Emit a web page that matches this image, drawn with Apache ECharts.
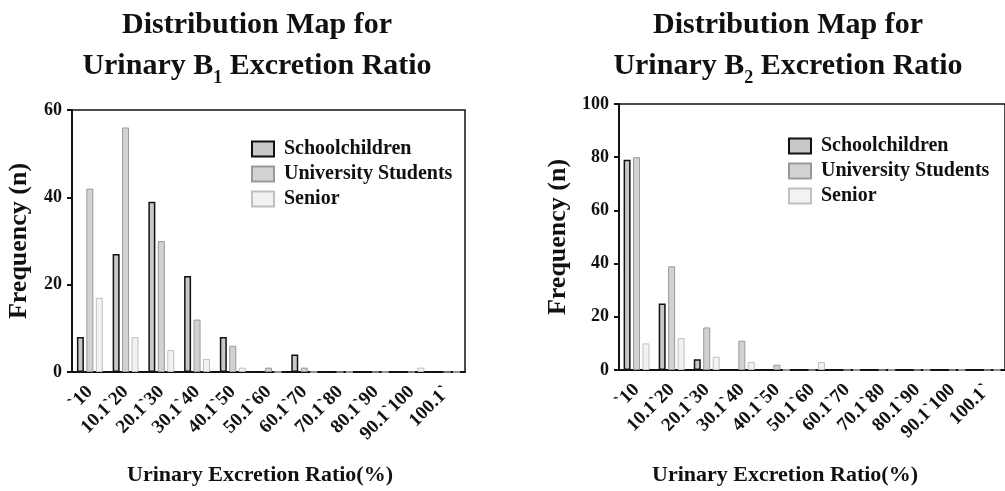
<!DOCTYPE html>
<html>
<head>
<meta charset="utf-8">
<script src="https://cdn.jsdelivr.net/npm/echarts@6/dist/echarts.min.js"></script>
<style>
  html, body { margin: 0; padding: 0; background: #fff; }
  #chart { width: 1005px; height: 491px; }
</style>
</head>
<body>
<div id="chart"></div>
<script>
// 区间 (x axis categories)
var categories = ['`10', '10.1`20', '20.1`30', '30.1`40', '40.1`50', '50.1`60',
  '60.1`70', '70.1`80', '80.1`90', '90.1`100', '100.1`'];
var seriesNames = ['Schoolchildren', 'University Students', 'Senior'];

// B1 chart
var b1School = [8, 27, 39, 22, 8, 0, 4, 0, 0, 0, 0];
var b1Univ   = [42, 56, 30, 12, 6, 1, 1, 0, 0, 0, 0];
var b1Senior = [17, 8, 5, 3, 1, 0, 0, 0, 0, 1, 0];
var b1Ticks  = [0, 20, 40, 60];

// B2 chart
var b2School = [79, 25, 4, 0, 0, 0, 0, 0, 0, 0, 0];
var b2Univ   = [80, 39, 16, 11, 2, 0, 0, 0, 0, 0, 0];
var b2Senior = [10, 12, 5, 3, 0, 3, 0, 0, 0, 0, 0];
var b2Ticks  = [0, 20, 40, 60, 80, 100];

var FONT = '"Liberation Serif", "Times New Roman", serif';

var barStyles = [
  { color: '#c8c8c8', borderColor: '#111', borderWidth: 1.5 },
  { color: '#d2d2d2', borderColor: '#999', borderWidth: 1 },
  { color: '#f2f2f2', borderColor: '#c0c0c0', borderWidth: 1 }
];

function makeBars(idx, list) {
  return list.map(function (d, i) {
    return {
      name: seriesNames[i],
      type: 'bar',
      xAxisIndex: idx,
      yAxisIndex: idx,
      data: d,
      barWidth: 7,
      barGap: '35%',
      itemStyle: barStyles[i],
      emphasis: { disabled: true }
    };
  });
}

function xAxisOf(idx) {
  return {
    type: 'category',
    gridIndex: idx,
    data: categories,
    axisLine: { lineStyle: { color: '#111', width: 2 } },
    axisTick: { alignWithLabel: true, length: 5, lineStyle: { color: '#111', width: 2 } },
    axisLabel: {
      interval: 0, rotate: 45, margin: 17,
      fontFamily: FONT, fontWeight: 'bold', fontSize: 19, color: '#111'
    }
  };
}

function yAxisOf(idx, ticks) {
  return {
    type: 'value',
    gridIndex: idx,
    min: ticks[0],
    max: ticks[ticks.length - 1],
    interval: ticks[1] - ticks[0],
    name: 'Frequency (n)',
    nameLocation: 'middle',
    nameGap: idx === 0 ? 40 : 48,
    nameTextStyle: { fontFamily: FONT, fontWeight: 'bold', fontSize: 26, color: '#111' },
    axisLine: { show: true, lineStyle: { color: '#111', width: 2 } },
    axisTick: { show: true, length: 5, lineStyle: { color: '#111', width: 2 } },
    splitLine: { show: false },
    axisLabel: {
      margin: 10,
      fontFamily: FONT, fontWeight: 'bold', fontSize: 18, color: '#111'
    }
  };
}

function legendOf(idx, left, top) {
  return {
    orient: 'vertical',
    left: left,
    top: top,
    icon: 'rect',
    itemWidth: 22,
    itemHeight: 15,
    itemGap: 5,
    data: seriesNames,
    textStyle: { fontFamily: FONT, fontWeight: 'bold', fontSize: 20, color: '#111', lineHeight: 20, padding: [0, 0, 0, 5] },
    selectedMode: false
  };
}

var titleRich = {
  sub: { fontFamily: FONT, fontWeight: 'bold', fontSize: 18, color: '#111', verticalAlign: 'bottom', lineHeight: 41 }
};

var chart = echarts.init(document.getElementById('chart'));
chart.setOption({
  animation: false,
  title: [
    {
      text: 'Distribution Map for\nUrinary B{sub|1} Excretion Ratio',
      left: 252, top: 0, textAlign: 'center',
      textStyle: { fontFamily: FONT, fontWeight: 'bold', fontSize: 30, color: '#111', lineHeight: 41, rich: titleRich }
    },
    {
      text: 'Distribution Map for\nUrinary B{sub|2} Excretion Ratio',
      left: 783, top: 0, textAlign: 'center',
      textStyle: { fontFamily: FONT, fontWeight: 'bold', fontSize: 30, color: '#111', lineHeight: 41, rich: titleRich }
    },
    {
      text: 'Urinary Excretion Ratio(%)',
      left: 255, top: 459, textAlign: 'center',
      textStyle: { fontFamily: FONT, fontWeight: 'bold', fontSize: 22, color: '#111' }
    },
    {
      text: 'Urinary Excretion Ratio(%)',
      left: 780, top: 459, textAlign: 'center',
      textStyle: { fontFamily: FONT, fontWeight: 'bold', fontSize: 22, color: '#111' }
    }
  ],
  legend: [
    legendOf(0, 246, 134),
    legendOf(1, 783, 131)
  ],
  grid: [
    { left: 72, top: 110, width: 393, height: 262, show: true, borderColor: '#111', borderWidth: 1.5, backgroundColor: 'transparent' },
    { left: 619, top: 104, width: 390, height: 266, show: true, borderColor: '#111', borderWidth: 1.5, backgroundColor: 'transparent' }
  ],
  xAxis: [xAxisOf(0), xAxisOf(1)],
  yAxis: [yAxisOf(0, b1Ticks), yAxisOf(1, b2Ticks)],
  series: makeBars(0, [b1School, b1Univ, b1Senior]).concat(makeBars(1, [b2School, b2Univ, b2Senior]))
});
</script>
</body>
</html>
